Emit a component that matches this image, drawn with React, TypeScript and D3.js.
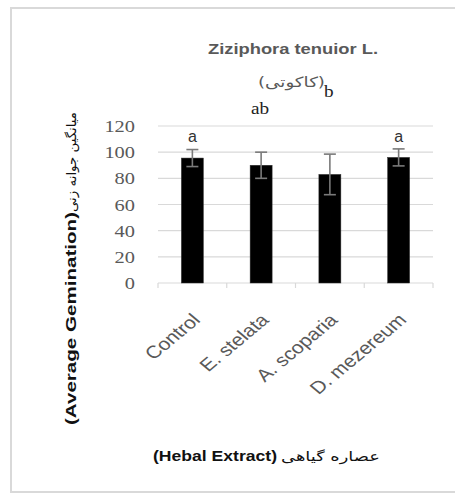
import React from "react";
import * as d3 from "d3";

const categories = ["Control", "E. stelata", "A. scoparia", "D. mezereum"];
const means = [95.5, 90, 83, 96];
const errors = [6.5, 10, 15.5, 6.5];
const letters = ["a", "ab", "b", "a"];
const letterLevels = [108, 129, 142.5, 108];
const yTicks = [0, 20, 40, 60, 80, 100, 120];

const SX = 1.2;

export default function App() {
  const W = 455;
  const H = 494;
  const x = d3.scaleBand<string>().domain(categories).range([158, 433]).paddingInner(0).paddingOuter(0);
  const y = d3.scaleLinear().domain([0, 120]).range([283, 126]);
  const barW = 22;
  const capW = 12;
  const bw = x.bandwidth();
  const boundaries = d3.range(categories.length + 1).map((i) => 158 + i * bw);

  return (
    <svg width={W} height={H} style={{ position: "absolute", left: 0, top: 0, background: "#fff" }}>
      <rect x={0} y={0} width={W} height={H} fill="#fff" />
      {/* frame */}
      <path d={`M ${W + 2} 8 H 11 V 492 H ${W + 2}`} fill="none" stroke="#d9d9d9" strokeWidth={2} />

      {/* title */}
      <text x={208} y={54} textLength={170} lengthAdjust="spacingAndGlyphs"
        fontFamily="Liberation Sans, Arial, sans-serif" fontWeight="bold" fontSize={15} fill="#595959">
        Ziziphora tenuior L.
      </text>
      <text x={258} y={87} textLength={67} lengthAdjust="spacingAndGlyphs"
        fontFamily="DejaVu Sans, sans-serif" fontSize={14} fill="#595959">
        {"\u200E(کاکوتی)\u200E"}
      </text>

      {/* gridlines */}
      {yTicks.filter((t) => t > 0).map((t) => (
        <line key={t} x1={158} x2={433} y1={y(t)} y2={y(t)} stroke="#d9d9d9" strokeWidth={1.2} />
      ))}
      {/* x axis */}
      <line x1={158} x2={433} y1={y(0)} y2={y(0)} stroke="#d9d9d9" strokeWidth={1.2} />
      {boundaries.map((b, i) => (
        <line key={i} x1={b} x2={b} y1={y(0)} y2={y(0) + 5} stroke="#d9d9d9" strokeWidth={1.2} />
      ))}

      {/* y tick labels */}
      {yTicks.map((t) => (
        <text key={t} transform={`translate(135, ${y(t) + 6}) scale(${SX},1)`} textAnchor="end"
          fontFamily="Liberation Serif, Times New Roman, serif" fontSize={17} fill="#595959">
          {t}
        </text>
      ))}

      {/* bars */}
      {categories.map((c, i) => {
        const cx = (x(c) as number) + bw / 2;
        return (
          <g key={c}>
            <rect x={cx - barW / 2} y={y(means[i])} width={barW} height={y(0) - y(means[i])} fill="#000" stroke="#333" strokeWidth={0.5} />
            <line x1={cx} x2={cx} y1={y(means[i] + errors[i])} y2={y(means[i] - errors[i])} stroke="#7a7a7a" strokeWidth={1.6} />
            <line x1={cx - capW / 2} x2={cx + capW / 2} y1={y(means[i] + errors[i])} y2={y(means[i] + errors[i])} stroke="#7a7a7a" strokeWidth={1.6} />
            <line x1={cx - capW / 2} x2={cx + capW / 2} y1={y(means[i] - errors[i])} y2={y(means[i] - errors[i])} stroke="#7a7a7a" strokeWidth={1.6} />
            {letters[i] === "a" ? (
              <text x={cx} y={y(letterLevels[i])} textAnchor="middle" fontFamily="Liberation Sans, Arial, sans-serif" fontSize={16} fill="#333">
                {letters[i]}
              </text>
            ) : (
              <text transform={`translate(${cx - 1}, ${y(letterLevels[i])}) scale(${SX},1)`} textAnchor="middle"
                fontFamily="Liberation Serif, Times New Roman, serif" fontSize={16} fill="#222">
                {letters[i]}
              </text>
            )}
            <text transform={`translate(${cx + 9}, 321) scale(${SX},1) rotate(-45)`} textAnchor="end"
              fontFamily="Liberation Sans, Arial, sans-serif" fontSize={17.5} fill="#595959">
              {c}
            </text>
          </g>
        );
      })}

      {/* y axis label */}
      <text transform="translate(76, 425) rotate(-90)" textLength={213} lengthAdjust="spacingAndGlyphs"
        fontFamily="Liberation Sans, Arial, sans-serif" fontWeight="bold" fontSize={14} fill="#111">
        (Average Gemination)
      </text>
      <text transform="translate(76, 212) rotate(-90)" textLength={100} lengthAdjust="spacingAndGlyphs"
        fontFamily="DejaVu Sans, sans-serif" fontSize={13} fill="#111">
        میانگین جوانه زنی
      </text>

      {/* x axis label */}
      <text x={153} y={461} textLength={124} lengthAdjust="spacingAndGlyphs"
        fontFamily="Liberation Sans, Arial, sans-serif" fontWeight="bold" fontSize={15} fill="#111">
        (Hebal Extract)
      </text>
      <text x={281} y={461} textLength={99} lengthAdjust="spacingAndGlyphs"
        fontFamily="DejaVu Sans, sans-serif" fontSize={13} fill="#111">
        عصاره گیاهی
      </text>
    </svg>
  );
}
